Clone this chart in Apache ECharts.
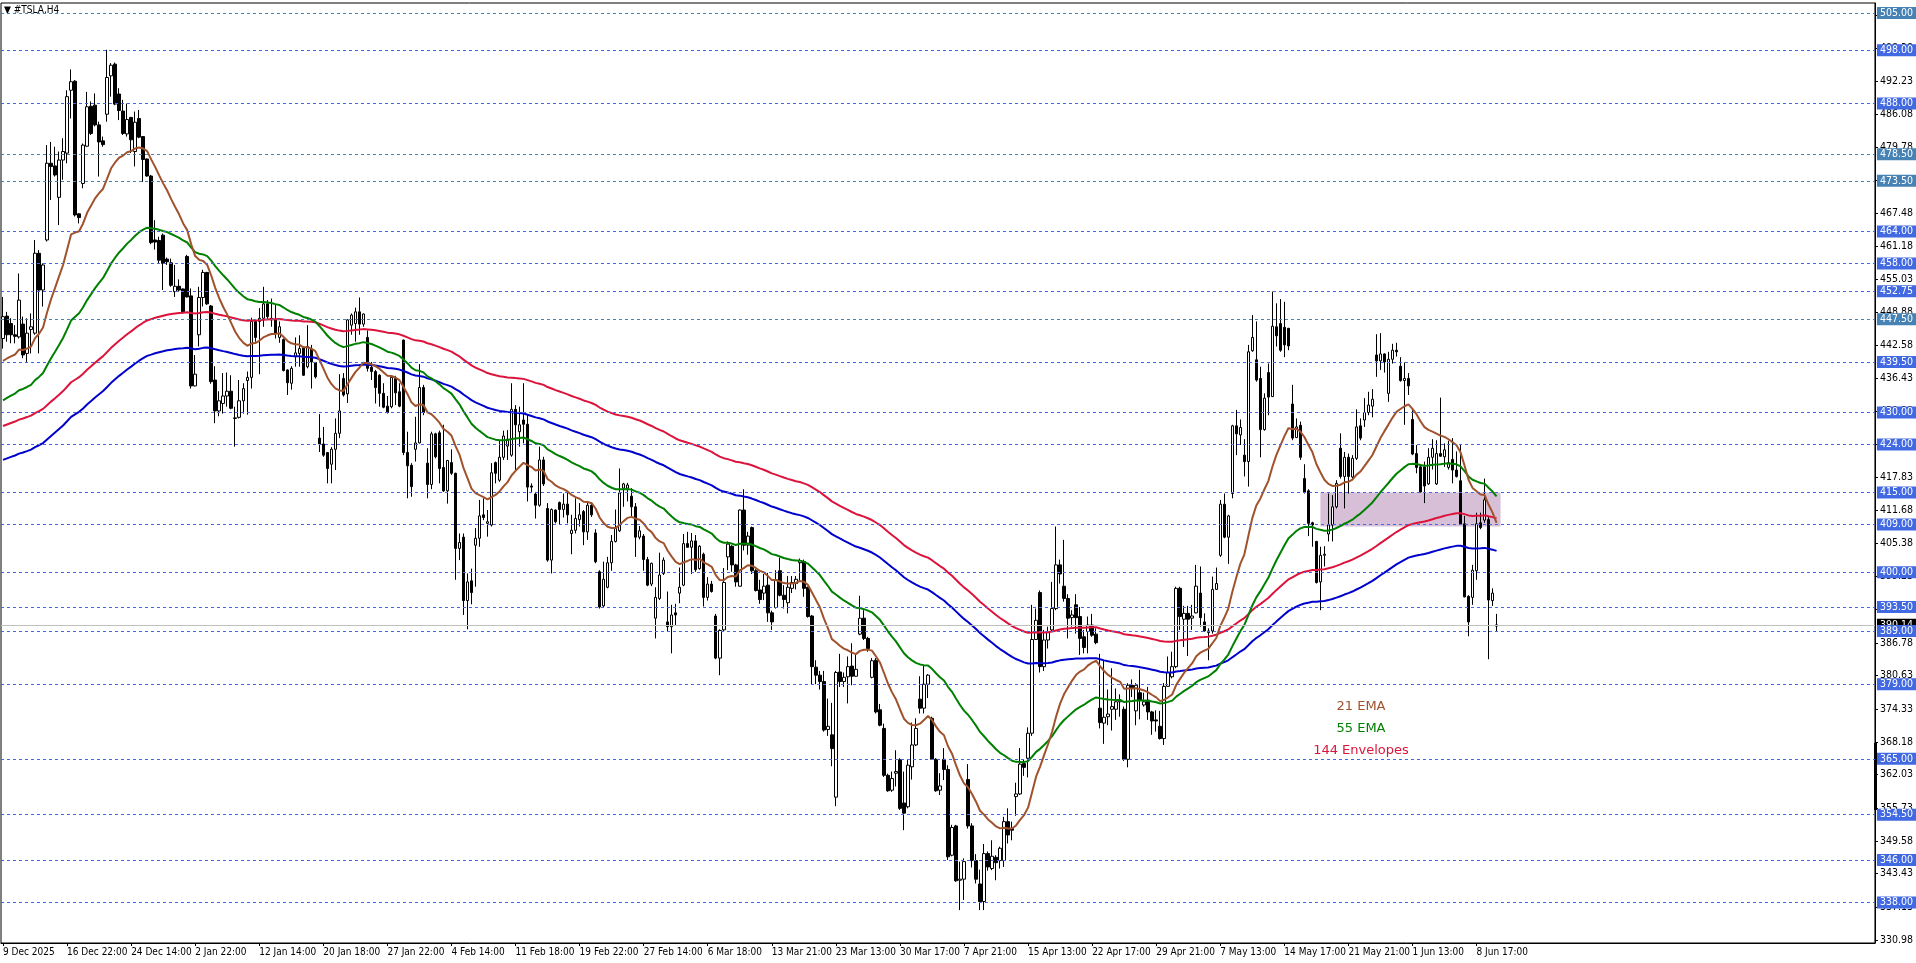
<!DOCTYPE html>
<html>
<head>
<meta charset="utf-8">
<title>#TSLA,H4</title>
<script src="https://cdn.jsdelivr.net/npm/echarts@6.0.0/dist/echarts.min.js"></script>
<style>
  html, body { margin: 0; padding: 0; background: #fff; }
  #chart { width: 1916px; height: 963px; }
</style>
</head>
<body>
<div id="chart"></div>
<script>
// H4 bars: [open, high, low, close]
const ohlc = [
  [443.9,451.7,442.0,448.0],[448.1,448.9,443.3,444.6],[446.7,447.7,443.0,444.6],[444.6,446.4,443.0,444.3],[444.2,456.1,443.9,451.1],
  [446.6,448.0,440.2,440.8],[441.1,447.7,439.5,444.9],[445.6,448.6,441.1,446.1],[444.9,462.4,444.6,459.9],[459.9,460.5,441.1,453.0],
  [453.0,458.0,449.9,457.7],[462.4,480.2,462.1,476.8],[476.8,480.8,469.9,476.2],[476.3,479.9,474.3,474.6],[470.4,479.0,465.2,477.4],
  [477.4,481.5,473.7,479.0],[478.7,490.5,476.8,489.3],[490.5,494.4,485.2,492.1],[492.2,492.4,466.8,467.1],[467.3,467.4,465.5,466.6],
  [473.0,480.5,472.1,480.2],[480.0,490.2,479.9,487.4],[487.5,488.4,482.1,482.4],[487.7,489.9,483.7,484.0],[484.0,484.6,474.3,480.8],
  [481.0,481.8,479.9,480.3],[486.0,498.1,484.6,492.9],[493.2,495.6,489.3,495.2],[495.4,495.7,487.7,487.9],[489.8,490.9,484.9,486.7],
  [486.6,488.7,482.1,482.4],[482.3,488.0,481.8,485.0],[485.4,485.5,478.7,481.2],[479.0,486.5,476.2,484.5],[485.2,486.8,481.5,481.7],
  [481.8,481.9,473.3,477.5],[477.6,477.7,474.3,474.4],[474.4,474.6,461.6,461.9],[462.4,466.1,460.6,462.0],[462.3,463.0,458.0,458.6],
  [463.3,463.6,453.0,458.0],[458.8,459.1,457.7,458.3],[458.1,458.9,453.6,453.9],[452.7,457.7,451.7,453.7],[453.7,455.0,452.7,453.0],
  [453.2,453.3,448.6,448.9],[459.3,459.6,451.6,451.7],[451.9,453.3,434.5,435.0],[435.0,440.8,434.9,437.2],[444.6,453.6,442.4,451.6],
  [451.6,456.8,449.9,456.3],[456.3,456.4,450.2,450.4],[450.0,450.2,435.4,435.8],[436.1,438.7,428.0,430.3],[430.3,434.0,429.3,432.2],
  [431.7,437.4,429.8,433.1],[433.1,437.5,431.1,434.0],[434.0,437.0,430.6,430.8],[428.9,431.1,423.6,429.0],[429.1,436.1,428.9,432.2],
  [432.2,435.5,429.8,434.5],[436.0,437.7,429.6,436.6],[436.6,447.8,434.5,447.1],[447.1,447.5,443.3,444.1],[447.1,449.6,437.2,447.7],
  [447.7,453.6,446.1,450.4],[450.4,451.1,447.5,448.0],[447.4,451.4,446.1,447.7],[447.4,450.2,443.9,444.9],[444.1,447.1,443.1,446.1],
  [443.7,443.9,437.7,437.9],[438.0,438.1,433.3,435.6],[435.5,438.7,434.3,438.3],[440.5,444.1,438.6,441.2],[441.1,444.5,438.6,442.0],
  [442.1,442.4,436.9,437.0],[438.6,446.4,438.3,442.4],[441.9,442.7,434.5,439.5],[439.4,439.5,436.4,436.7],[425.2,429.7,422.6,424.1],
  [424.1,427.3,421.7,422.0],[422.5,422.6,416.7,419.5],[420.3,423.5,416.7,423.1],[423.1,428.9,419.2,426.1],[426.1,437.2,425.2,430.3],
  [436.4,437.4,433.0,433.3],[433.5,447.5,431.8,447.4],[446.4,448.6,444.6,448.3],[446.7,449.7,443.3,448.9],[448.9,451.6,444.6,446.6],
  [446.6,448.6,446.1,448.5],[444.1,445.4,437.7,438.3],[438.5,439.5,436.1,437.7],[437.7,438.0,431.7,434.7],[437.0,437.2,431.1,433.6],
  [433.6,435.5,430.8,431.0],[431.2,433.1,429.8,430.0],[431.1,437.0,430.8,436.6],[436.4,436.9,431.4,433.7],[433.9,435.5,431.0,431.2],
  [443.6,443.7,422.0,422.5],[422.5,426.4,413.9,420.0],[420.1,420.5,414.2,416.1],[423.1,429.2,420.8,424.3],[424.3,439.1,424.2,434.7],
  [434.7,435.2,429.5,430.0],[420.5,423.3,413.9,416.5],[416.5,426.4,415.6,426.0],[426.0,426.2,421.4,421.7],[426.2,426.6,416.7,419.5],
  [419.7,427.7,415.1,415.3],[415.3,421.1,412.9,421.0],[420.6,423.1,418.3,418.6],[418.6,418.7,398.6,404.5],[404.5,407.3,402.3,405.6],
  [406.6,407.3,392.0,394.7],[394.7,399.8,389.3,398.2],[398.4,400.7,394.0,396.2],[405.1,408.3,397.3,406.4],[406.4,413.6,404.8,410.6],
  [410.8,413.9,409.8,410.3],[409.2,411.7,406.7,409.5],[408.9,420.5,408.6,418.7],[420.6,420.8,416.7,418.6],[417.3,424.8,417.0,421.6],
  [421.6,426.6,421.1,425.6],[423.7,426.7,421.1,425.0],[422.0,435.5,421.7,430.6],[430.6,431.4,419.2,427.7],[426.4,431.1,423.6,427.7],
  [428.6,435.5,424.2,427.8],[427.8,429.5,413.3,416.0],[416.2,416.7,415.1,416.0],[414.7,415.1,410.1,412.6],[412.6,423.6,412.3,421.1],
  [421.1,421.7,416.2,416.6],[412.0,413.0,402.0,402.3],[402.3,412.0,399.8,411.8],[411.7,411.8,409.2,409.5],[413.1,413.3,408.9,411.8],
  [411.8,414.8,410.3,412.8],[412.8,415.1,409.2,410.8],[407.3,410.8,403.4,407.9],[407.9,413.9,407.3,410.1],[409.9,413.0,408.6,410.8],
  [411.4,411.7,405.1,407.6],[407.6,413.4,406.1,412.6],[412.6,413.1,410.4,410.8],[407.4,408.1,401.7,402.0],[400.1,400.4,393.2,393.5],
  [393.7,402.0,393.4,398.7],[397.2,402.9,397.0,401.8],[401.8,407.0,400.3,405.8],[405.8,411.8,405.6,408.3],[407.8,419.5,407.6,414.9],
  [415.8,416.8,412.3,416.6],[415.8,416.8,413.3,416.4],[414.3,415.8,410.3,412.3],[412.3,413.0,402.9,406.6],[406.6,408.7,406.2,407.8],
  [406.8,407.2,400.3,402.4],[402.4,402.9,397.4,397.6],[397.8,401.8,397.4,401.7],[391.4,397.2,387.6,395.3],[395.1,403.7,394.8,399.5],
  [399.8,402.8,399.5,402.3],[390.7,396.4,388.9,389.8],[389.8,393.9,384.8,392.0],[392.4,394.1,390.1,392.0],[396.1,400.9,394.2,397.2],
  [397.6,407.2,397.4,405.4],[405.4,407.6,404.7,404.7],[404.7,407.4,399.7,405.9],[405.9,407.0,400.1,400.5],[400.7,405.1,400.5,404.9],
  [403.4,403.7,393.6,395.3],[395.3,399.1,394.7,397.8],[397.8,398.4,396.2,396.4],[391.8,392.2,383.7,383.9],[383.9,389.3,380.7,389.1],
  [389.2,400.8,389.0,398.1],[402.9,405.8,400.4,405.3],[404.9,405.1,400.1,401.4],[401.4,401.6,397.3,398.2],[397.4,411.8,397.3,411.7],
  [411.7,415.6,404.1,405.1],[405.1,407.6,403.3,406.8],[408.4,408.6,399.7,400.3],[400.3,400.6,396.4,396.6],[396.7,398.6,394.1,394.9],
  [396.1,399.7,394.8,397.4],[397.6,399.9,390.7,392.4],[392.4,392.8,389.2,390.7],[393.4,400.4,393.2,398.6],[400.3,402.8,395.5,395.7],
  [395.7,397.6,393.2,394.9],[394.3,399.3,392.3,397.2],[397.0,399.3,396.1,398.1],[397.9,399.3,396.8,398.7],[401.8,402.6,398.2,402.2],
  [402.0,402.4,395.4,397.0],[397.2,397.3,391.5,391.7],[391.8,392.0,379.0,382.3],[382.2,383.5,379.0,380.7],[380.7,381.5,378.0,379.5],
  [379.5,381.5,370.1,370.4],[370.5,376.3,369.3,371.1],[369.5,375.5,363.6,366.9],[357.8,381.5,356.1,381.2],[381.3,384.7,378.5,379.5],
  [379.5,381.2,378.5,380.3],[380.4,384.2,375.4,382.3],[382.4,386.7,378.8,380.5],[380.5,384.5,380.4,381.8],[388.4,395.6,388.2,391.4],
  [391.4,392.9,387.3,387.6],[387.6,387.9,385.1,385.7],[380.3,383.9,380.1,383.4],[383.5,383.9,373.5,373.8],[374.2,375.3,371.1,371.3],
  [370.7,371.6,361.6,361.9],[361.9,362.2,358.8,359.0],[359.1,362.6,358.8,361.3],[362.3,366.6,359.8,362.6],[364.8,365.1,355.4,355.7],
  [356.7,362.6,351.6,354.8],[356.0,364.8,355.7,363.8],[363.5,371.8,361.1,367.6],[367.6,372.6,367.4,370.7],[376.2,380.5,373.5,374.5],
  [374.5,382.6,373.5,379.0],[379.0,380.9,376.4,380.7],[372.6,372.9,364.8,364.9],[364.9,365.1,358.8,359.0],[359.1,362.3,358.2,359.9],
  [364.9,367.0,361.0,363.0],[363.0,363.8,346.0,346.6],[346.9,352.6,346.7,352.1],[352.4,352.6,341.9,342.1],[342.2,345.7,336.6,342.4],
  [342.4,346.3,338.5,345.7],[361.1,364.0,351.9,352.4],[352.4,352.9,344.6,345.9],[345.9,347.1,341.6,342.4],[341.5,344.2,336.6,338.2],
  [338.2,349.0,336.6,347.2],[347.2,347.6,344.0,344.7],[344.4,349.7,344.1,346.7],[346.5,346.9,342.2,345.5],[345.9,348.5,344.4,348.2],
  [345.9,354.1,344.7,353.2],[353.2,355.7,349.1,350.7],[351.9,353.2,349.7,351.6],[357.9,360.5,354.3,358.4],[358.4,367.0,358.2,364.0],
  [364.1,364.8,361.8,363.4],[365.1,370.9,361.5,369.8],[369.8,393.9,369.3,387.4],[387.4,393.2,387.3,391.0],[396.2,396.6,381.2,382.3],
  [382.3,389.2,381.5,387.3],[387.3,389.8,385.7,388.7],[389.2,398.2,388.9,393.2],[393.2,408.6,392.9,401.4],[401.4,402.4,397.9,399.7],
  [397.4,406.1,394.5,395.1],[395.1,395.9,387.6,391.4],[391.5,392.9,389.8,392.0],[393.9,395.9,388.5,391.5],[391.7,393.5,384.5,387.6],
  [387.9,389.2,384.8,385.9],[388.9,391.7,384.8,390.1],[390.1,392.2,387.9,388.2],[388.4,389.5,386.5,386.8],[374.5,384.7,370.7,371.8],
  [371.7,383.5,367.8,372.8],[372.9,378.0,371.3,373.4],[374.3,382.0,370.3,374.8],[374.3,378.2,372.3,375.7],[375.7,377.1,372.9,376.0],
  [374.3,374.8,364.6,364.9],[364.9,379.2,363.4,378.8],[378.8,379.9,376.6,378.2],[374.0,379.2,371.3,378.8],[377.4,381.7,372.4,376.0],
  [375.1,377.4,374.8,375.7],[376.0,378.5,372.3,373.8],[373.8,374.0,369.5,372.1],[372.3,374.1,370.1,372.1],[371.1,374.0,368.6,368.8],
  [368.8,379.2,367.6,378.6],[378.6,384.2,378.5,381.2],[380.4,385.1,380.1,382.3],[382.3,397.3,382.0,397.0],[397.0,397.3,389.2,391.7],
  [391.2,393.7,386.0,392.3],[392.3,393.7,384.3,391.2],[391.4,393.9,389.2,391.8],[392.4,401.4,392.3,397.4],[396.1,401.1,389.8,391.5],
  [390.7,392.3,388.9,389.0],[388.7,389.5,383.5,389.0],[389.0,399.2,388.5,396.8],[396.8,400.9,396.7,397.9],[403.2,413.6,402.9,412.8],
  [412.8,414.8,406.4,406.6],[406.6,410.8,401.6,410.6],[414.8,427.7,413.9,427.5],[427.5,430.5,422.0,426.0],[425.8,428.7,423.9,427.2],
  [422.0,425.0,418.0,420.8],[420.8,442.7,416.1,441.4],[441.6,448.3,441.4,444.1],[439.9,447.1,435.8,436.1],[436.4,438.6,421.6,426.8],
  [426.8,433.6,426.6,432.7],[437.5,439.2,429.5,432.9],[433.0,452.7,432.9,446.2],[446.1,450.5,442.4,444.4],[446.7,451.3,441.4,441.7],
  [446.0,450.8,440.4,442.7],[445.8,445.9,441.7,442.5],[431.6,435.2,424.8,425.2],[425.3,428.9,425.2,427.3],[427.6,428.3,421.1,421.6],
  [417.6,420.3,414.8,415.1],[415.3,415.6,406.8,409.2],[409.3,409.5,404.8,408.9],[405.8,405.9,397.9,398.1],[398.2,404.8,392.9,403.2],
  [403.2,404.9,401.1,403.4],[407.2,414.8,405.8,408.9],[408.9,414.5,405.8,412.3],[412.3,417.3,412.0,416.7],[423.3,426.1,417.6,418.0],
  [418.0,422.6,412.0,421.6],[421.6,422.3,414.8,418.0],[417.9,422.0,417.3,421.4],[421.4,430.6,421.1,427.3],[427.5,428.9,424.8,425.2],
  [428.6,432.7,427.3,430.0],[430.0,433.9,429.5,431.4],[431.2,434.4,429.1,432.5],[440.8,444.7,436.7,439.7],[439.7,444.9,438.0,441.0],
  [441.0,441.1,437.5,439.5],[433.6,441.4,432.0,440.0],[440.0,442.9,439.2,441.7],[441.7,443.1,440.5,441.4],[438.7,440.4,435.8,436.0],
  [436.0,439.4,427.7,436.4],[436.4,437.4,433.3,435.0],[428.7,430.6,422.0,422.2],[422.3,423.9,418.6,419.7],[419.8,420.2,415.0,415.1],
  [419.8,420.8,413.0,416.2],[416.6,423.3,416.4,421.6],[421.6,425.0,419.3,423.3],[416.6,424.8,416.4,422.3],[422.3,432.8,421.7,421.8],
  [421.7,424.2,419.8,423.0],[419.7,424.7,419.3,420.6],[421.2,425.2,416.7,419.2],[419.2,422.7,417.8,418.0],[417.2,423.9,408.9,409.1],
  [409.1,410.6,395.3,395.4],[395.5,395.7,388.0,390.7],[395.3,401.4,393.9,400.4],[400.3,411.2,398.6,409.1],[409.3,411.2,408.1,408.4],
  [409.8,417.6,409.3,413.6],[409.9,410.4,383.7,394.8],[394.7,397.0,393.7,396.1],[389.9,392.2,388.9,390.14]
];

// time axis labels, one every 16 bars from the first bar
const xLabels = ['9 Dec 2025','16 Dec 22:00','24 Dec 14:00','2 Jan 22:00','12 Jan 14:00','20 Jan 18:00',
  '27 Jan 22:00','4 Feb 14:00','11 Feb 18:00','19 Feb 22:00','27 Feb 14:00','6 Mar 18:00','13 Mar 21:00',
  '23 Mar 13:00','30 Mar 17:00','7 Apr 21:00','15 Apr 13:00','22 Apr 17:00','29 Apr 21:00','7 May 13:00',
  '14 May 17:00','21 May 21:00','1 Jun 13:00','8 Jun 17:00'];
const LABEL_EVERY = 16;
const TOTAL_SLOTS = 468;   // bars + empty space on the right

// price scale
const yTicks = [330.98,337.13,343.43,349.58,355.73,362.03,368.18,374.33,380.63,386.78,393.08,399.23,405.38,
  411.68,417.83,424.13,430.28,436.43,442.58,448.88,455.03,461.18,467.48,473.63,479.78,486.08,492.23,498.38,504.53];
const levelsRoyal = [498,488,464,458,452.75,439.5,430,424,415,409,400,393.5,389,379,365,354.5,346,338];
const levelsSteel = [505,478.5,473.5,447.5];

// indicator values at the first bar
const ema21Start = 439.7;
const ema55Start = 432.3;
const env144Start = 424.3;
const envDeviation = 0.0075;

// resistance box
const zoneBars = [329, 374];
const zonePrices = [408.6, 415];

const categories = [];
for (let i = 0; i < TOTAL_SLOTS; i++) categories.push(String(i));

function ema(period, start) {
  const k = 2 / (period + 1);
  let v = start;
  return ohlc.map(function (b, i) {
    if (i > 0) v += k * (b[3] - v);
    return v;
  });
}

const ema21 = ema(21, ema21Start);
const ema55 = ema(55, ema55Start);
const mid144 = ema(144, env144Start);
const envUp = mid144.map(v => +(v * (1 + envDeviation)).toFixed(2));
const envDn = mid144.map(v => +(v * (1 - envDeviation)).toFixed(2));

const lastClose = ohlc[ohlc.length - 1][3];
const FONT = '"DejaVu Sans Condensed", "Liberation Sans", sans-serif';

function levelLine(v, color) {
  return {
    yAxis: v,
    lineStyle: { color: color, type: [3, 3], width: 1 },
    label: { backgroundColor: color }
  };
}

let myChart = echarts.init(document.getElementById('chart'), null, { renderer: 'canvas' });

let option = {
  animation: false,
  backgroundColor: '#fff',
  grid: { left: 1, right: 41, top: 3, bottom: 20, show: true, borderColor: '#000', borderWidth: 1 },
  xAxis: {
    type: 'category',
    data: categories,
    boundaryGap: true,
    axisLine: { show: true, lineStyle: { color: '#000' } },
    axisTick: {
      show: true,
      alignWithLabel: true,
      length: 3,
      interval: (i) => i % LABEL_EVERY === 0 && i / LABEL_EVERY < xLabels.length,
      lineStyle: { color: '#000' }
    },
    axisLabel: {
      interval: (i) => i % LABEL_EVERY === 0 && i / LABEL_EVERY < xLabels.length,
      formatter: (v) => xLabels[Math.round(Number(v) / LABEL_EVERY)] || '',
      align: 'left',
      margin: 4,
      color: '#000',
      fontFamily: FONT,
      fontSize: 10
    },
    splitLine: { show: false }
  },
  yAxis: {
    type: 'value',
    position: 'right',
    min: 330.42,
    max: 506.88,
    axisLine: { show: true, lineStyle: { color: '#000' } },
    axisTick: { show: true, length: 3, customValues: yTicks, lineStyle: { color: '#000' } },
    axisLabel: {
      customValues: yTicks,
      formatter: (v) => v.toFixed(2),
      margin: 5,
      color: '#000',
      fontFamily: FONT,
      fontSize: 10.5
    },
    splitLine: { show: false }
  },
  series: [
    {
      // resistance box + bid line, drawn underneath
      type: 'line',
      data: [],
      silent: true,
      z: 1,
      markArea: {
        silent: true,
        itemStyle: { color: '#D8BFD8' },
        data: [[
          { xAxis: String(zoneBars[0]), yAxis: zonePrices[0] },
          { xAxis: String(zoneBars[1]), yAxis: zonePrices[1] }
        ]]
      },
      markLine: {
        silent: true,
        symbol: ['none', 'none'],
        data: [{ yAxis: lastClose }],
        lineStyle: { color: '#C0C0C0', type: 'solid', width: 1 },
        label: {
          position: 'end',
          distance: 2,
          formatter: (p) => p.value.toFixed(2),
          color: '#fff',
          backgroundColor: '#000',
          fontFamily: FONT,
          fontSize: 10.5,
          padding: [1, 3, 0, 3]
        }
      }
    },
    {
      type: 'line',
      data: [],
      silent: true,
      z: 2,
      markLine: {
        silent: true,
        symbol: ['none', 'none'],
        data: levelsRoyal.map(v => levelLine(v, '#4169E1')).concat(levelsSteel.map(v => levelLine(v, '#4682B4'))),
        label: {
          position: 'end',
          distance: 2,
          formatter: (p) => p.value.toFixed(2),
          color: '#fff',
          fontFamily: FONT,
          fontSize: 10.5,
          padding: [1, 3, 0, 3]
        }
      }
    },
    {
      name: '#TSLA',
      type: 'candlestick',
      z: 3,
      barWidth: 3,
      data: ohlc.map(b => [b[0], b[3], b[2], b[1]]),
      itemStyle: { color: '#fff', color0: '#000', borderColor: '#000', borderColor0: '#000', borderWidth: 1 }
    },
    { name: '144 Envelopes upper', type: 'line', z: 4, data: envUp, symbol: 'none', lineStyle: { color: '#DC143C', width: 2 } },
    { name: '144 Envelopes lower', type: 'line', z: 4, data: envDn, symbol: 'none', lineStyle: { color: '#0000CD', width: 2 } },
    { name: '55 EMA', type: 'line', z: 4, data: ema55, symbol: 'none', lineStyle: { color: '#008000', width: 2 } },
    { name: '21 EMA', type: 'line', z: 4, data: ema21, symbol: 'none', lineStyle: { color: '#A0522D', width: 2 } }
  ],
  graphic: [
    { type: 'text', left: 4, top: 5, style: { text: '\u25BC #TSLA,H4', fill: '#000', font: '10px "DejaVu Sans Condensed", "Liberation Sans"' } },
    { type: 'text', x: 1361, y: 707, style: { text: '21 EMA', fill: '#A0522D', font: '13px "DejaVu Sans"', align: 'center', verticalAlign: 'middle' } },
    { type: 'text', x: 1361, y: 729, style: { text: '55 EMA', fill: '#008000', font: '13px "DejaVu Sans"', align: 'center', verticalAlign: 'middle' } },
    { type: 'text', x: 1361, y: 751, style: { text: '144 Envelopes', fill: '#DC143C', font: '13px "DejaVu Sans"', align: 'center', verticalAlign: 'middle' } },
    { type: 'rect', shape: { x: 1874, y: 743, width: 3, height: 67 }, style: { fill: '#000' } }
  ]
};

myChart.setOption(option);
</script>
</body>
</html>
